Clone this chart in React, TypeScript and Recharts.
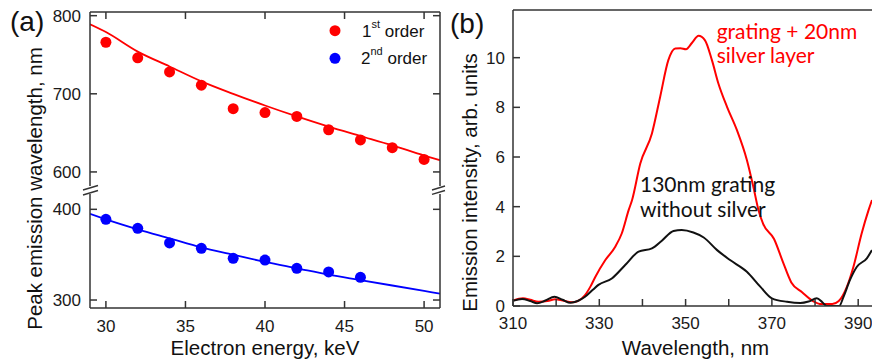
import { ComposedChart, Line, Scatter, XAxis, YAxis, Label } from 'recharts'

// panel (a): peak wavelength vs electron energy
const energy1 = [30, 32, 34, 36, 38, 40, 42, 44, 46, 48, 50]
const firstOrder = [766, 746, 728, 711, 681, 676, 671, 654, 641, 631, 616]
const energy2 = [30, 32, 34, 36, 38, 40, 42, 44, 46]
const secondOrder = [389, 379, 363, 357, 346, 344, 335, 331, 325]

const fitEnergy = [29, 30, 32, 34, 36, 38, 40, 42, 44, 46, 48, 50, 51]
const fitFirst = [789, 779, 754, 735, 716, 700, 685, 671, 658, 646, 634, 621, 615]
const fitSecond = [395, 389, 378, 368, 358, 350, 342, 335, 328, 322, 316, 310, 307]

const energyTicks = [30, 35, 40, 45, 50]
const upperTicks = [600, 700, 800]
const lowerTicks = [300, 400]

// panel (b): emission spectra
const wlRed = [310, 312.3, 314, 315.9, 318, 319.8, 321.5, 323.6, 325.2, 326.7, 328, 329.1, 331.4, 333.7, 335.2, 336.8, 337.6, 339.5, 342.2, 344.1, 346, 347.6, 348.8, 350.1, 351.5, 353, 354.5, 356.1, 357.6, 359.6, 361.9, 364.2, 365.7, 366.9, 368, 370.5, 372.5, 374.5, 377, 379.5, 381.5, 384, 385.5, 387.4, 388.9, 390.8, 392.4, 393.2]
const intRed = [0.22, 0.31, 0.25, 0.17, 0.2, 0.27, 0.22, 0.15, 0.22, 0.44, 0.8, 1.18, 1.85, 2.39, 2.92, 3.86, 4.27, 5.74, 6.95, 8.42, 9.9, 10.37, 10.38, 10.34, 10.6, 10.88, 10.7, 9.9, 8.96, 8.02, 7.08, 5.88, 4.8, 3.86, 3.3, 2.7, 1.8, 0.95, 0.55, 0.2, 0.08, 0.08, 0.2, 0.78, 1.58, 2.92, 3.86, 4.27]

const wlBlack = [310, 312.1, 314, 315.6, 317.5, 319.6, 321.5, 323.3, 325, 326.7, 328.5, 329.8, 332.9, 336, 339.1, 342.2, 344.5, 347.2, 349.1, 351.8, 354.2, 357.3, 360.3, 364.2, 367.3, 370, 373.5, 376.6, 378.5, 380.4, 381.7, 382.7, 384.5, 385.6, 386.6, 388.1, 389.7, 392, 393.2]
const intBlack = [0.21, 0.28, 0.2, 0.11, 0.22, 0.37, 0.25, 0.13, 0.2, 0.37, 0.65, 0.85, 1.11, 1.65, 2.19, 2.32, 2.63, 3.02, 3.06, 2.96, 2.76, 2.25, 1.85, 1.38, 0.78, 0.31, 0.17, 0.12, 0.18, 0.31, 0.15, 0, 0, 0, 0.37, 1.05, 1.58, 1.92, 2.25]

const wlTicks = [310, 320, 330, 340, 350, 360, 370, 380, 390]
const intTicks = [0, 2, 4, 6, 8, 10]

const RED = '#ff0000'
const BLUE = '#0000ff'
const AXIS = '#333'
const FONT = '"Liberation Sans", Arial, sans-serif'
const ANNOT_FONT = 'Lato, "Open Sans", sans-serif'

const tickStyle = { fontSize: 17, fill: '#1a1a1a', fontFamily: FONT }
const lineStyle = { stroke: AXIS, strokeWidth: 1.5 }
const blank = () => ''

const toPts = (xs: number[], ys: number[], xk: string, yk: string) =>
  xs.map((x, i) => ({ [xk]: x, [yk]: ys[i] }))

const firstData = toPts(energy1, firstOrder, 'e', 'v')
const secondData = toPts(energy2, secondOrder, 'e', 'v')
const fit1Data = toPts(fitEnergy, fitFirst, 'e', 'v')
const fit2Data = toPts(fitEnergy, fitSecond, 'e', 'v')
const redData = toPts(wlRed, intRed, 'w', 'i')
const blackData = toPts(wlBlack, intBlack, 'w', 'i')

// eslint-disable-next-line @typescript-eslint/no-explicit-any
const dotShape = (color: string) => (p: any) => <circle cx={p.cx} cy={p.cy} r={5.5} fill={color} />

export default function App() {
  return (
    <div style={{ position: 'fixed', left: 0, top: 0, width: 872, height: 363, overflow: 'hidden', background: '#fff', fontFamily: FONT }}>
      {/* (a) upper segment */}
      <div style={{ position: 'absolute', left: 0, top: 0 }}>
        <ComposedChart width={445} height={192} margin={{ top: 11, right: 4, bottom: 6, left: 0 }}>
          <XAxis xAxisId="t" orientation="top" type="number" dataKey="e" domain={[29, 51]} ticks={energyTicks}
            interval={0} height={1} tickSize={-7} tickFormatter={blank} axisLine={lineStyle} tickLine={lineStyle} allowDataOverflow />
          <YAxis yAxisId="l" type="number" dataKey="v" domain={[582, 804.7]} ticks={upperTicks} interval={0}
            width={90} tickSize={-7} tickMargin={16} tick={tickStyle} axisLine={lineStyle} tickLine={lineStyle} allowDataOverflow />
          <YAxis yAxisId="r" orientation="right" type="number" dataKey="v" domain={[582, 804.7]} ticks={upperTicks} interval={0}
            width={1} tickSize={-7} tickFormatter={blank} axisLine={lineStyle} tickLine={lineStyle} allowDataOverflow />
          <Line xAxisId="t" yAxisId="r" data={fit1Data} dataKey="v" stroke="none" dot={false} isAnimationActive={false} />
          <Line xAxisId="t" yAxisId="l" data={fit1Data} dataKey="v" type="monotone" stroke={RED} strokeWidth={1.8}
            dot={false} isAnimationActive={false} />
          <Scatter xAxisId="t" yAxisId="l" data={firstData} dataKey="v" fill={RED} shape={dotShape(RED)} isAnimationActive={false} />
        </ComposedChart>
      </div>

      {/* (a) lower segment */}
      <div style={{ position: 'absolute', left: 0, top: 188 }}>
        <ComposedChart width={445} height={175} margin={{ top: 6, right: 4, bottom: 0, left: 0 }}>
          <XAxis xAxisId="b" type="number" dataKey="e" domain={[29, 51]} ticks={energyTicks} interval={0}
            height={55} tickSize={-7} tickMargin={19} tick={tickStyle} axisLine={lineStyle} tickLine={lineStyle} allowDataOverflow>
            <Label value="Electron energy, keV" position="insideBottom" offset={8}
              style={{ fontSize: 20.5, fill: '#111', fontFamily: FONT }} />
          </XAxis>
          <YAxis yAxisId="l" type="number" dataKey="v" domain={[291.2, 416.9]} ticks={lowerTicks} interval={0}
            width={90} tickSize={-7} tickMargin={16} tick={tickStyle} axisLine={lineStyle} tickLine={lineStyle} allowDataOverflow />
          <YAxis yAxisId="r" orientation="right" type="number" dataKey="v" domain={[291.2, 416.9]} ticks={lowerTicks} interval={0}
            width={1} tickSize={-7} tickFormatter={blank} axisLine={lineStyle} tickLine={lineStyle} allowDataOverflow />
          <Line xAxisId="b" yAxisId="r" data={fit2Data} dataKey="v" stroke="none" dot={false} isAnimationActive={false} />
          <Line xAxisId="b" yAxisId="l" data={fit2Data} dataKey="v" type="monotone" stroke={BLUE} strokeWidth={1.8}
            dot={false} isAnimationActive={false} />
          <Scatter xAxisId="b" yAxisId="l" data={secondData} dataKey="v" fill={BLUE} shape={dotShape(BLUE)} isAnimationActive={false} />
        </ComposedChart>
      </div>

      {/* (b) spectra */}
      <div style={{ position: 'absolute', left: 420, top: 0 }}>
        <ComposedChart width={452} height={363} margin={{ top: 9, right: 0, bottom: 0, left: 0 }}>
          <XAxis xAxisId="w" type="number" dataKey="w" domain={[310, 393.2]} ticks={wlTicks} interval={0}
            height={57} tickSize={-7} tickMargin={18} tick={tickStyle}
            tickFormatter={(v: number) => (v % 20 === 10 ? String(v) : '')}
            axisLine={lineStyle} tickLine={lineStyle} allowDataOverflow>
            <Label value="Wavelength, nm" position="insideBottom" offset={8} dx={3}
              style={{ fontSize: 20.5, fill: '#111', fontFamily: FONT }} />
          </XAxis>
          <XAxis xAxisId="top" orientation="top" type="number" dataKey="w" domain={[310, 393.2]} height={1}
            tick={false} tickLine={false} axisLine={lineStyle} allowDataOverflow />
          <YAxis yAxisId="i" type="number" dataKey="i" domain={[0, 11.92]} ticks={intTicks} interval={0}
            width={93} tickSize={-7} tickMargin={15} tick={tickStyle} axisLine={lineStyle} tickLine={lineStyle} allowDataOverflow />
          <Line xAxisId="top" yAxisId="i" data={redData} dataKey="i" stroke="none" dot={false} isAnimationActive={false} />
          <Line xAxisId="w" yAxisId="i" data={redData} dataKey="i" type="monotone" stroke={RED} strokeWidth={2}
            dot={false} isAnimationActive={false} />
          <Line xAxisId="w" yAxisId="i" data={blackData} dataKey="i" type="monotone" stroke="#111" strokeWidth={2}
            dot={false} isAnimationActive={false} />
        </ComposedChart>
      </div>

      {/* labels, axis break, legend, annotations */}
      <svg width={872} height={363} style={{ position: 'absolute', left: 0, top: 0, pointerEvents: 'none' }}>
        <text x={10} y={31} fontSize={28} fill="#111" fontFamily={FONT}>(a)</text>
        <text x={450} y={33} fontSize={28} fill="#111" fontFamily={FONT}>(b)</text>

        <text transform="translate(41.7,188.5) rotate(-90)" textAnchor="middle" fontSize={20.5} fill="#111" fontFamily={FONT}>
          Peak emission wavelength, nm
        </text>
        <text transform="translate(476.7,182.5) rotate(-90)" textAnchor="middle" fontSize={20.5} fill="#111" fontFamily={FONT}>
          Emission intensity, arb. units
        </text>

        <g stroke={AXIS} strokeWidth={1.4}>
          <line x1={83} y1={190} x2={98} y2={185.5} />
          <line x1={83} y1={195} x2={98} y2={190.5} />
          <line x1={432} y1={190} x2={445} y2={186} />
          <line x1={432} y1={194.3} x2={445} y2={190.5} />
        </g>

        <circle cx={335} cy={30.7} r={5.5} fill={RED} />
        <text x={362} y={36.7} fontSize={17} fill="#111" fontFamily={FONT}>
          1<tspan fontSize={11} dy={-9}>st</tspan><tspan dy={9}> order</tspan>
        </text>
        <circle cx={335} cy={58.3} r={5.5} fill={BLUE} />
        <text x={361} y={64.3} fontSize={17} fill="#111" fontFamily={FONT}>
          2<tspan fontSize={11} dy={-9}>nd</tspan><tspan dy={9}> order</tspan>
        </text>

        <text fontSize={21} fill={RED} fontFamily={ANNOT_FONT}>
          <tspan x={716.7} y={39.3}>grating + 20nm</tspan>
          <tspan x={716.7} y={62.7}>silver layer</tspan>
        </text>
        <text fontSize={21} fill="#111" fontFamily={ANNOT_FONT}>
          <tspan x={640} y={191.7}>130nm grating</tspan>
          <tspan x={640} y={216.7}>without silver</tspan>
        </text>
      </svg>
    </div>
  )
}
